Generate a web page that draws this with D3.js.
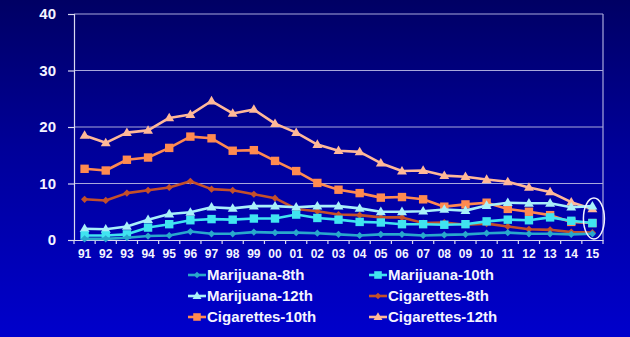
<!DOCTYPE html>
<html><head><meta charset="utf-8">
<script src="https://cdn.jsdelivr.net/npm/d3@7"></script>
<style>html,body{margin:0;padding:0;background:#000080;}svg{display:block;}</style>
</head><body>
<svg id="c" width="630" height="337"></svg>
<script>
const years = ["91","92","93","94","95","96","97","98","99","00","01","02","03","04","05","06","07","08","09","10","11","12","13","14","15"];
const yTicks = [0,10,20,30,40];
const seriesNames = ["Marijuana-8th","Marijuana-10th","Marijuana-12th","Cigarettes-8th","Cigarettes-10th","Cigarettes-12th"];
const marijuana8 = [0.2,0.2,0.4,0.7,0.8,1.5,1.1,1.1,1.4,1.3,1.3,1.2,1.0,0.8,1.0,1.0,0.8,0.9,1.0,1.2,1.3,1.1,1.1,1.0,1.1];
const marijuana10 = [0.8,0.8,1.0,2.2,2.8,3.5,3.7,3.6,3.8,3.8,4.5,3.9,3.6,3.2,3.1,2.8,2.8,2.7,2.8,3.3,3.6,3.5,4.0,3.4,3.0];
const marijuana12 = [2.0,1.9,2.4,3.6,4.6,4.9,5.8,5.6,6.0,6.0,5.8,6.0,6.0,5.6,5.0,5.0,5.1,5.4,5.2,6.1,6.6,6.5,6.5,5.8,6.0];
const cigarettes8 = [7.2,7.0,8.3,8.8,9.3,10.4,9.0,8.8,8.1,7.4,5.5,5.1,4.5,4.4,4.0,4.0,3.0,3.1,2.7,2.9,2.4,1.9,1.8,1.4,1.3];
const cigarettes10 = [12.6,12.3,14.2,14.6,16.3,18.3,18.0,15.8,15.9,14.0,12.2,10.1,8.9,8.3,7.5,7.6,7.2,5.9,6.3,6.6,5.5,5.0,4.4,3.2,3.0];
const cigarettes12 = [18.5,17.2,19.0,19.4,21.6,22.2,24.6,22.4,23.1,20.6,19.0,16.9,15.8,15.6,13.6,12.2,12.3,11.4,11.2,10.7,10.3,9.3,8.5,6.7,5.5];

const seriesValues = [marijuana8, marijuana10, marijuana12, cigarettes8, cigarettes10, cigarettes12];
const colors = ["#28a8cc","#40e4f0","#a8f0fa","#c4502a","#ff8a50","#ffb898"];
const markers = ["diamond","square","triangle","diamond","square","triangle"];
const drawOrder = [5,4,3,2,1,0];

const svg = d3.select("#c");
const W = 630, H = 337;
const defs = svg.append("defs");
const grad = defs.append("linearGradient").attr("id","bg").attr("x1",0).attr("y1",0).attr("x2",0).attr("y2",1);
grad.append("stop").attr("offset","0%").attr("stop-color","#000064");
grad.append("stop").attr("offset","45%").attr("stop-color","#00009a");
grad.append("stop").attr("offset","100%").attr("stop-color","#0000cc");
svg.append("rect").attr("width",W).attr("height",H).attr("fill","url(#bg)");

const m = {left:74, right:603, top:14, bottom:240};
const x = d3.scaleBand().domain(years).range([m.left, m.right]).padding(0);
const y = d3.scaleLinear().domain([0,40]).range([m.bottom, m.top]);
const cx = d => x(d) + x.bandwidth()/2;

// grid
const gridColor = "#a8a8dc";
svg.append("g").selectAll("line").data(yTicks.filter(t=>t>0)).join("line")
  .attr("x1", m.left).attr("x2", m.right)
  .attr("y1", d=>y(d)).attr("y2", d=>y(d))
  .attr("stroke", gridColor).attr("stroke-width",1.2);
// right border
svg.append("line").attr("x1",m.right).attr("x2",m.right).attr("y1",m.top).attr("y2",m.bottom)
  .attr("stroke",gridColor).attr("stroke-width",1.2);

// y axis
const yAxis = svg.append("g").attr("transform",`translate(${m.left},0)`)
  .call(d3.axisLeft(y).tickValues(yTicks).tickSize(6).tickPadding(12));
yAxis.select(".domain").attr("stroke","#d8d8f0").attr("stroke-width",1.2);
yAxis.selectAll(".tick line").attr("stroke","#d8d8f0").attr("stroke-width",1.2);
yAxis.selectAll("text").attr("fill","#f4f4ff").attr("font-family","Liberation Sans, Arial, sans-serif")
  .attr("font-weight","bold").attr("font-size",15);

// x axis
const xAxis = svg.append("g").attr("transform",`translate(0,${m.bottom})`)
  .call(d3.axisBottom(x).tickSize(0).tickPadding(9));
xAxis.select(".domain").attr("stroke","#d8d8f0").attr("stroke-width",1.2);
xAxis.selectAll("text").attr("fill","#f4f4ff").attr("font-family","Liberation Sans, Arial, sans-serif")
  .attr("font-weight","bold").attr("font-size",12);
// tick marks between categories
const bounds = years.map(d => x(d)).concat([m.right]);
xAxis.append("g").selectAll("line").data(bounds).join("line")
  .attr("x1",d=>d).attr("x2",d=>d).attr("y1",0).attr("y2",4)
  .attr("stroke","#d8d8f0").attr("stroke-width",1.2);

function markerPath(type, size) {
  const s = size;
  if (type === "square") return `M${-s},${-s}H${s}V${s}H${-s}Z`;
  if (type === "triangle") return `M0,${-s*1.15}L${s*1.1},${s*0.75}L${-s*1.1},${s*0.75}Z`;
  return `M0,${-s}L${s},0L0,${s}L${-s},0Z`;
}
const markerSize = {square:4.2, triangle:4.5, diamond:3.6};

const line = d3.line().x((d,i)=>cx(years[i])).y(d=>y(d));
const plot = svg.append("g");
drawOrder.forEach(k => {
  const g = plot.append("g");
  g.append("path").datum(seriesValues[k]).attr("d", line)
    .attr("fill","none").attr("stroke",colors[k]).attr("stroke-width",2.6).attr("stroke-linejoin","round");
  g.selectAll("path.mk").data(seriesValues[k]).join("path").attr("class","mk")
    .attr("transform",(d,i)=>`translate(${cx(years[i])},${y(d)})`)
    .attr("d", markerPath(markers[k], markerSize[markers[k]]))
    .attr("fill",colors[k]);
});

// highlight ellipse around last year
svg.append("ellipse").attr("cx", cx("15")+1.5).attr("cy", y(3.8)).attr("rx",10.5).attr("ry",20.5)
  .attr("fill","none").attr("stroke","#f0f0ff").attr("stroke-width",1.5);

// legend
const legX = [188, 369], legY = [275, 296, 317];
const leg = svg.append("g");
seriesNames.forEach((name,i) => {
  const col = i % 2, row = Math.floor(i/2);
  const gx = legX[col], gy = legY[row];
  const g = leg.append("g").attr("transform",`translate(${gx},${gy})`);
  g.append("line").attr("x1",0).attr("x2",18).attr("y1",0).attr("y2",0)
    .attr("stroke",colors[i]).attr("stroke-width",2.6);
  g.append("path").attr("transform","translate(9,0)")
    .attr("d", markerPath(markers[i], markerSize[markers[i]]*0.9)).attr("fill",colors[i]);
  g.append("text").attr("x",19).attr("y",0).attr("dy","0.36em")
    .attr("fill","#f4f4ff").attr("font-family","Liberation Sans, Arial, sans-serif")
    .attr("font-weight","bold").attr("font-size",15).text(name);
});
</script>
</body></html>
